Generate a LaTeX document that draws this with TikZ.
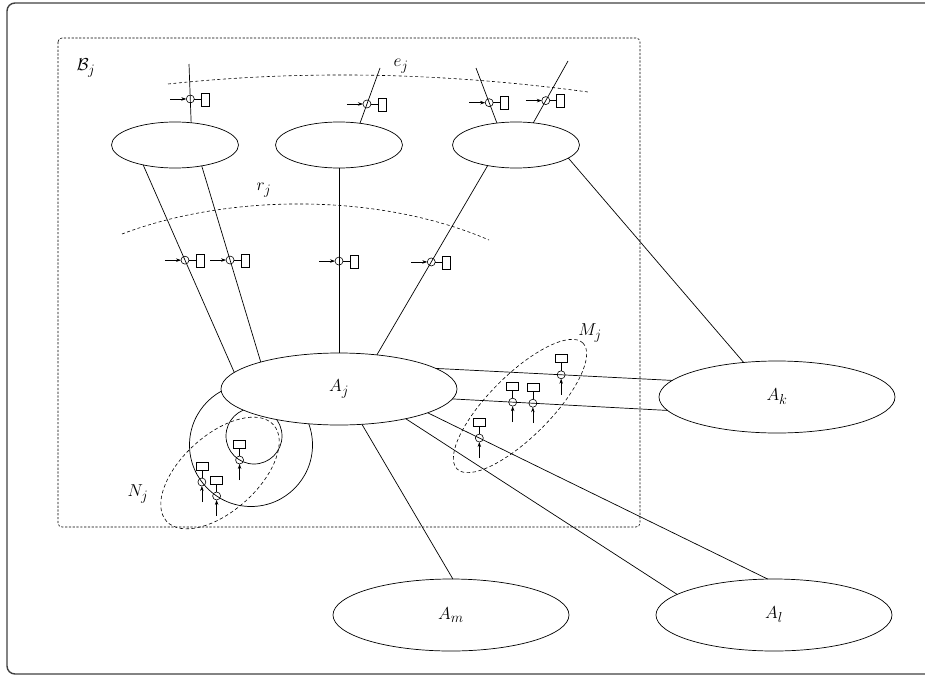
\documentclass[tikz,border=0pt]{standalone}
\usetikzlibrary{shapes.geometric,arrows.meta,calc}
\begin{document}
\begin{tikzpicture}[x=1pt,y=-1pt,
  every node/.style={inner sep=0pt,outer sep=0pt},
  lab/.style={font=\fontsize{19}{23}\selectfont},
  agent/.style={ellipse,draw,line width=0.7pt,minimum width=236pt,minimum height=72pt,fill=white,font=\fontsize{19}{23}\selectfont},
  subagent/.style={ellipse,draw,line width=0.7pt,minimum width=127pt,minimum height=46pt},
  mylink/.style={line width=0.7pt},
  frontier/.style={line width=0.6pt,dash pattern=on 3pt off 2.5pt},
  mygroup/.style={ellipse,draw,line width=0.6pt,dash pattern=on 3.5pt off 2.5pt},
  probetip/.style={-{Stealth[length=5pt,width=3.5pt]}},
  pics/sideprobe/.style={code={
     \draw[line width=0.6pt] (0,0) circle[radius=4pt];
     \draw[line width=0.6pt] (4,0) -- (11,0);
     \draw[line width=0.6pt] (11,-6) rectangle (19,7);
     \draw[line width=0.6pt,probetip] (-20,0) -- (-4,0);
  }},
  pics/upprobe/.style={code={
     \draw[line width=0.6pt] (0,0) circle[radius=4pt];
     \draw[line width=0.6pt] (0,-4) -- (0,-12);
     \draw[line width=0.6pt] (-6,-12) rectangle (6,-20);
     \draw[line width=0.6pt,probetip] (0,20) -- (0,4);
  }}
]
\useasboundingbox (0,0) rectangle (925,677);
% outer frame (its right side lies beyond the picture)
\begin{scope}
\clip (0,0) rectangle (925,677);
\draw[line width=1.4pt,black!75,rounded corners=8pt] (7,3) rectangle (945,674);
\end{scope}
% B_j box
\draw[line width=0.6pt,dash pattern=on 2.2pt off 1.6pt,rounded corners=4pt] (58,38) rectangle (640,527);
\node[lab] (Bj) at (86,68) {$\mathcal{B}_j$};

% self loops of A_j (covered inside A_j by its white fill)
\coordinate (bigc) at (251,445);
\coordinate (smallc) at (254,436);
\draw[mylink] (bigc) circle[radius=61.5pt];
\draw[mylink] (smallc) circle[radius=28pt];

% nodes
\node[agent] (Aj) at (339,389) {$A_j$};
\node[agent] (Ak) at (777,397) {$A_k$};
\node[agent] (Am) at (451,615) {$A_m$};
\node[agent] (Al) at (774,615) {$A_l$};
\node[subagent] (E1) at (175,145) {};
\node[subagent] (E2) at (339,145) {};
\node[subagent] (E3) at (516,145) {};

% frontier curves
\draw[frontier] (168,84) .. controls (300,70) and (440,72) .. (588,92);
\node[lab] (ej) at (401,66) {$e_j$};
\draw[frontier] (122,234) .. controls (230,193) and (380,193) .. (489,240);
\node[lab] (rj) at (264,190) {$r_j$};

% external edges at top
\coordinate (t1) at (189,64);
\coordinate (t2) at (380,68);
\coordinate (t3) at (476,68);
\coordinate (t4) at (568,61);
\draw[mylink] (E1.54) -- (t1);
\draw[mylink] (E2.46) -- (t2);
\draw[mylink] (E3.131) -- (t3);
\draw[mylink] (E3.52) -- (t4);
\pic at ($(E1.54)!0.405!(t1)$) {sideprobe};
\pic at ($(E2.46)!0.349!(t2)$) {sideprobe};
\pic at ($(E3.131)!0.37!(t3)$) {sideprobe};
\pic at ($(E3.52)!0.36!(t4)$) {sideprobe};

% connectors
\draw[mylink] (E1.212) -- (Aj.171);
\draw[mylink] (E1.322) -- (Aj.161);
\draw[mylink] (E2.south) -- (Aj.north);
\draw[mylink] (E3.216) -- (Aj.42);
\draw[mylink] (E3.346) -- (Ak.134);
\draw[mylink] (Aj.12) -- (Ak.171);
\draw[mylink] (Aj.355) -- (Ak.187);
\draw[mylink] (Aj.303) -- (Am.87);
\draw[mylink] (Aj.336) -- (Al.168);
\draw[mylink] (Aj.345) -- (Al.100);

% probes on r_j
\pic at ($(E1.212)!0.459!(Aj.171)$) {sideprobe};
\pic at ($(E1.322)!0.48!(Aj.161)$) {sideprobe};
\pic at ($(E2.south)!0.503!(Aj.north)$) {sideprobe};
\pic at ($(E3.216)!0.509!(Aj.42)$) {sideprobe};

% M_j
\node[mygroup,minimum width=178pt,minimum height=62pt,rotate=45] (Mj) at (520,406) {};
\node[lab] (Mjl) at (590,333) {$M_j$};
\pic at ($(Aj.12)!0.53!(Ak.171)$) {upprobe};
\pic at ($(Aj.355)!0.28!(Ak.187)$) {upprobe};
\pic at ($(Aj.355)!0.374!(Ak.187)$) {upprobe};
\pic at ($(Aj.345)!0.152!(Al.100)$) {upprobe};

% N_j
\node[mygroup,minimum width=144pt,minimum height=76pt,rotate=42] (Nj) at (220,473) {};
\node[lab] (Njl) at (138,494) {$N_j$};
\pic at ($(smallc)+(121:28)$) {upprobe};
\pic at ($(bigc)+(143:61.5)$) {upprobe};
\pic at ($(bigc)+(124:61.5)$) {upprobe};
\end{tikzpicture}
\end{document}
